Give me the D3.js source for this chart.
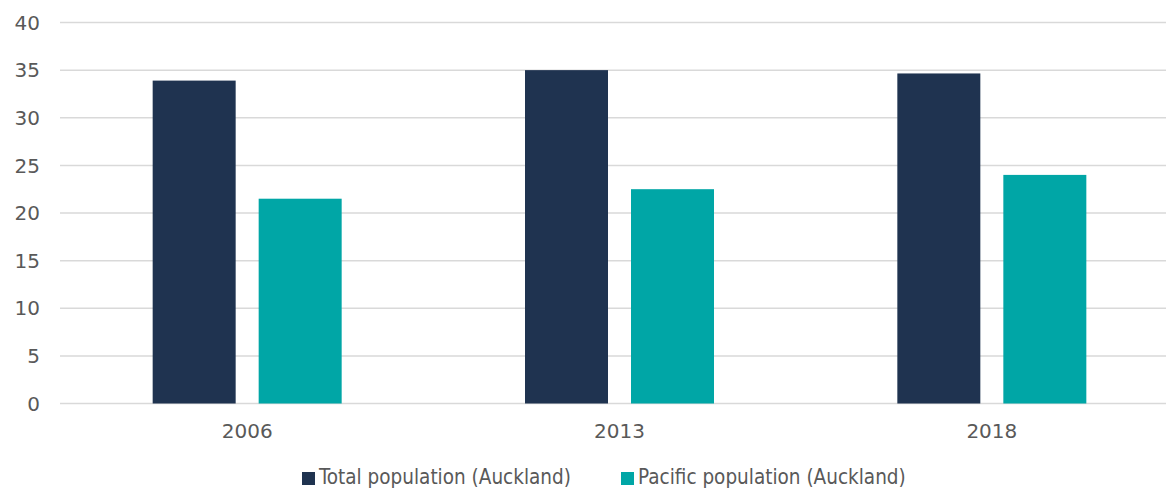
<!DOCTYPE html>
<html>
<head>
<meta charset="utf-8">
<script src="https://cdn.jsdelivr.net/npm/d3@7"></script>
<style>
  body { margin: 0; background: #fff; }
  text { font-family: "DejaVu Sans", sans-serif; fill: #595959; }
  .legend text { font-family: "DejaVu Sans Condensed", "DejaVu Sans", sans-serif; font-stretch: condensed; }
</style>
</head>
<body>
<svg id="chart" width="1166" height="490"></svg>
<script>
const years = ["2006", "2013", "2018"];
const seriesNames = ["Total population (Auckland)", "Pacific population (Auckland)"];
const totalPop = [33.9, 35.0, 34.65];
const pacificPop = [21.5, 22.5, 24.0];
const yTicks = [0, 5, 10, 15, 20, 25, 30, 35, 40];
const colors = ["#1F3350", "#00A6A6"];

const svg = d3.select("#chart");
const plotLeft = 61, plotRight = 1178, plotTop = 22.5, plotBottom = 403.5;

let x0 = d3.scaleBand().domain(years).range([plotLeft, plotRight]).padding(0);
let groupW = 189;
let x1 = d3.scaleBand().domain(seriesNames)
    .range([(x0.bandwidth() - groupW) / 2, (x0.bandwidth() + groupW) / 2])
    .paddingInner(0.217);
let y = d3.scaleLinear().domain([0, 40]).range([plotBottom, plotTop]);

// gridlines
svg.append("g").selectAll("line")
    .data(yTicks)
    .join("line")
    .attr("x1", plotLeft - 1)
    .attr("x2", 1166)
    .attr("y1", d => y(d))
    .attr("y2", d => y(d))
    .attr("stroke", "#D9D9D9")
    .attr("stroke-width", 1.5);

// y labels
svg.append("g").selectAll("text")
    .data(yTicks)
    .join("text")
    .attr("x", 40)
    .attr("y", d => y(d))
    .attr("dy", "0.36em")
    .attr("text-anchor", "end")
    .attr("font-size", 20)
    .text(d => d);

// bars
let rows = years.map((yr, i) => ({year: yr, vals: [totalPop[i], pacificPop[i]]}));
let groups = svg.append("g").selectAll("g")
    .data(rows)
    .join("g")
    .attr("transform", d => `translate(${x0(d.year)},0)`);

groups.selectAll("rect")
    .data(d => d.vals.map((v, j) => ({name: seriesNames[j], v: v, j: j})))
    .join("rect")
    .attr("x", d => x1(d.name))
    .attr("width", x1.bandwidth())
    .attr("y", d => y(d.v))
    .attr("height", d => y(0) - y(d.v))
    .attr("fill", d => colors[d.j]);

// x labels
svg.append("g").selectAll("text")
    .data(years)
    .join("text")
    .attr("x", d => x0(d) + x0.bandwidth() / 2)
    .attr("y", 431)
    .attr("dy", "0.36em")
    .attr("text-anchor", "middle")
    .attr("font-size", 20)
    .text(d => d);

// legend
let legendX = [302, 621];
let legend = svg.append("g").attr("class", "legend").selectAll("g")
    .data(seriesNames)
    .join("g")
    .attr("transform", (d, i) => `translate(${legendX[i]},478)`);

legend.append("rect")
    .attr("x", 0)
    .attr("y", -6)
    .attr("width", 13)
    .attr("height", 13)
    .attr("fill", (d, i) => colors[i]);

legend.append("text")
    .attr("x", 17)
    .attr("y", 6)
    .attr("font-size", 20.5)
    .text(d => d);
</script>
</body>
</html>
